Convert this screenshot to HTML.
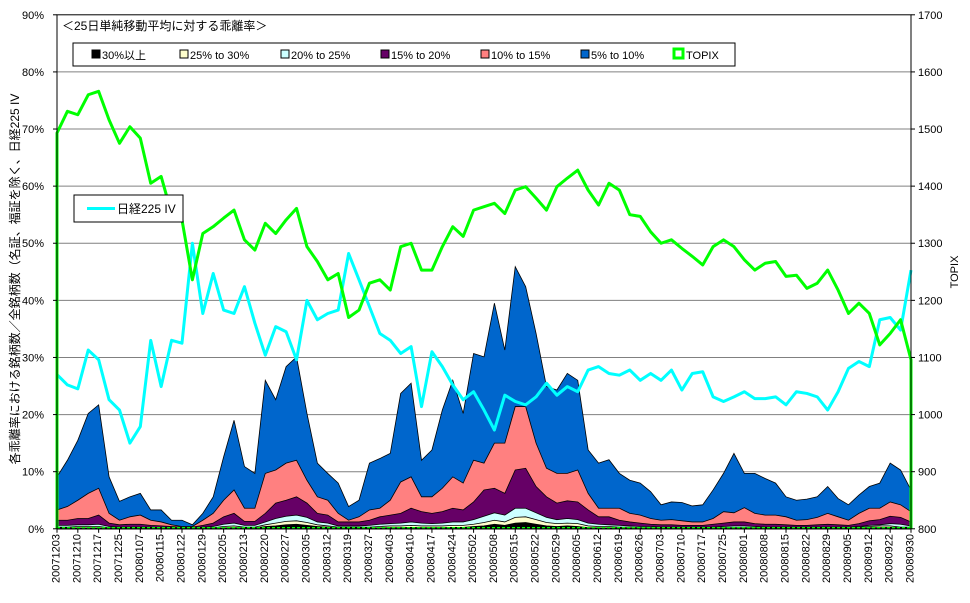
<!DOCTYPE html>
<html><head><meta charset="utf-8"><style>
html,body{margin:0;padding:0;background:#fff;}
svg{display:block;font-family:"Liberation Sans","Noto Sans CJK JP",sans-serif;}
</style></head><body>
<svg id="chart" width="970" height="603" viewBox="0 0 970 603" xmlns="http://www.w3.org/2000/svg">
<g id="grid"></g>
<g id="areas"></g>
<g id="lines"></g>
<g id="axes"></g>
<text x="62" y="30" font-size="12">＜25日単純移動平均に対する乖離率＞</text>
<g>
 <rect x="73" y="43" width="662" height="23" fill="#fff" stroke="#000" stroke-width="1"/>
 <g><rect x="92" y="50" width="8" height="8" fill="#000" stroke="#000"/><text x="102" y="59" font-size="11">30%以上</text></g>
 <g><rect x="180" y="50" width="8" height="8" fill="#FFFFCC" stroke="#000"/><text x="190" y="59" font-size="11">25% to 30%</text></g>
 <g><rect x="281" y="50" width="8" height="8" fill="#CCFFFF" stroke="#000"/><text x="291" y="59" font-size="11">20% to 25%</text></g>
 <g><rect x="381" y="50" width="8" height="8" fill="#660066" stroke="#000"/><text x="391" y="59" font-size="11">15% to 20%</text></g>
 <g><rect x="481" y="50" width="8" height="8" fill="#FF8080" stroke="#000"/><text x="491" y="59" font-size="11">10% to 15%</text></g>
 <g><rect x="581" y="50" width="8" height="8" fill="#0066CC" stroke="#000"/><text x="591" y="59" font-size="11">5% to 10%</text></g>
 <g><rect x="674" y="49" width="9" height="9" fill="#fff" stroke="#00FF00" stroke-width="3"/><text x="686" y="59" font-size="11">TOPIX</text></g>
</g>
<g>
 <rect x="74" y="195" width="109" height="27" fill="#fff" stroke="#000"/>
 <line x1="87" y1="208.5" x2="115" y2="208.5" stroke="#00FFFF" stroke-width="3"/>
 <text x="117" y="213" font-size="12">日経225 IV</text>
</g>
<text transform="translate(19,279) rotate(-90)" text-anchor="middle" font-size="12">各乖離率における銘柄数／全銘柄数（名証、福証を除く、日経225 IV</text>
<text transform="translate(958,272) rotate(-90)" text-anchor="middle" font-size="11">TOPIX</text>
</svg>
<script>
const dateLabels=["20071203","20071210","20071217","20071225","20080107","20080115","20080122","20080129","20080205","20080213","20080220","20080227","20080305","20080312","20080319","20080327","20080403","20080410","20080417","20080424","20080502","20080508","20080515","20080522","20080529","20080605","20080612","20080619","20080626","20080703","20080710","20080717","20080725","20080801","20080808","20080815","20080822","20080829","20080905","20080912","20080922","20080930"];
const leftTicks=[0,10,20,30,40,50,60,70,80,90];
const rightTicks=[800,900,1000,1100,1200,1300,1400,1500,1600,1700];
const topix=[1493,1531,1525,1560,1566,1516,1475,1504,1484,1405,1417,1352,1341,1236,1317,1329,1344,1358,1306,1288,1335,1317,1341,1361,1294,1268,1236,1247,1170,1183,1230,1236,1218,1294,1300,1253,1253,1294,1329,1312,1358,1364,1370,1352,1393,1399,1379,1358,1399,1414,1428,1393,1367,1405,1393,1350,1347,1320,1300,1306,1291,1277,1262,1294,1306,1294,1271,1253,1265,1268,1242,1244,1221,1230,1253,1218,1177,1195,1177,1122,1142,1166,1096];
const nikkeiIV=[27,25.2,24.5,31.3,29.6,22.6,20.8,15,17.9,33,24.9,33,32.5,50,37.7,44.7,38.3,37.7,42.4,36,30.4,35.4,34.5,29.6,40,36.6,37.7,38.3,48.2,43.6,38.9,34.2,33,30.7,31.9,21.4,31,28.4,25.2,22.6,24,20.8,17.3,23.4,22.3,21.7,23.1,25.5,23.4,24.9,24,27.8,28.4,27.2,26.9,27.8,26,27.2,26,27.8,24.3,27.2,27.5,23.1,22.3,23.1,24,22.8,22.8,23.1,21.7,24,23.7,23.1,20.8,24,28.1,29.3,28.4,36.6,37,34.8,45.3];
const atLeast5=[9.1,12,15.5,20.2,21.7,9.1,4.8,5.6,6.2,3.3,3.3,1.5,1.5,0.7,2.7,5.6,12.6,19,10.9,9.7,26,22.6,28.4,30.1,20.2,11.5,9.7,8,3.9,5,11.5,12.3,13.2,23.7,25.5,12,13.8,20.8,26,20.2,30.7,30.1,39.5,31.3,45.9,42.4,34.2,24.9,24.3,27.2,26,13.8,11.5,12.1,9.7,8.5,8,6.5,4.2,4.7,4.6,4,4.2,6.8,9.7,13.2,9.7,9.7,8.8,8,5.6,5,5.2,5.6,7.4,5.3,4.2,5.9,7.4,8,11.5,10.3,6.8];
const atLeast10=[3.3,3.9,5,6.2,7.1,2.7,1.5,2.1,2.4,1.5,1.2,0.7,0.4,0.4,1.5,2.7,5,6.8,3.6,3.6,9.7,10.3,11.5,12,8.5,5.6,5,2.7,1.5,2.1,3.3,3.6,5,8.2,9.1,5.6,5.6,7.1,9.1,8,12,11.5,15,15,21.4,21.4,15,10.6,9.7,9.7,10.3,6.2,3.6,3.6,3.6,2.7,2.4,1.8,1.5,1.6,1.4,1.2,1.2,1.8,3,2.8,3.7,2.7,2.4,2.4,2.1,1.5,1.6,2,2.7,2.1,1.5,2.7,3.6,3.6,4.7,4.2,3];
const atLeast15=[1.5,1.5,1.8,1.8,2.4,1,0.7,0.8,0.8,0.6,0.5,0.4,0.3,0.3,0.6,1,2.1,2.7,1.3,1.3,2.7,4.5,5,5.6,4.5,2.7,2.4,1.2,1.2,1.2,1.5,2.1,2.4,2.7,3.6,3,2.7,3,3.6,3.3,4.7,6.8,7.1,6.2,10.3,10.6,7.4,5.6,4.5,4.9,4.7,3.3,2.1,2.1,1.5,1.2,1,0.8,0.7,0.7,0.6,0.6,0.6,0.8,1,1.2,1.2,0.9,0.8,0.8,0.7,0.6,0.6,0.7,0.8,0.7,0.6,0.9,1.4,1.6,2.2,2,1.2];
const atLeast20=[0.6,0.6,0.7,0.7,0.8,0.4,0.3,0.3,0.3,0.3,0.2,0.2,0.1,0.1,0.3,0.4,0.8,1,0.6,0.6,1.2,1.8,2.2,2.4,2,1.2,1,0.5,0.5,0.5,0.6,0.8,0.9,1,1.2,1,0.9,1,1.2,1.2,1.6,2.2,2.8,2.4,3.6,3.6,2.8,2,1.6,1.8,1.6,1,0.8,0.7,0.6,0.5,0.4,0.4,0.3,0.3,0.3,0.3,0.3,0.3,0.4,0.5,0.5,0.4,0.3,0.3,0.3,0.3,0.3,0.3,0.3,0.3,0.3,0.4,0.6,0.7,0.9,0.8,0.5];
const atLeast25=[0.3,0.3,0.4,0.4,0.4,0.2,0.2,0.2,0.2,0.2,0.1,0.1,0.1,0.1,0.2,0.2,0.4,0.5,0.3,0.3,0.7,1,1.3,1.4,1.1,0.7,0.5,0.3,0.3,0.3,0.3,0.4,0.5,0.5,0.6,0.5,0.5,0.5,0.6,0.6,0.8,1.1,1.5,1.2,2,2.1,1.6,1.1,0.9,1,0.9,0.5,0.4,0.4,0.3,0.3,0.2,0.2,0.2,0.2,0.2,0.2,0.2,0.2,0.2,0.2,0.2,0.2,0.2,0.2,0.2,0.2,0.2,0.2,0.2,0.2,0.2,0.3,0.4,0.5,0.5,0.3,0.3];
const atLeast30=[0.15,0.15,0.15,0.15,0.15,0.1,0.1,0.1,0.1,0.1,0.05,0.05,0.05,0.05,0.1,0.1,0.15,0.2,0.15,0.15,0.4,0.5,0.7,0.8,0.6,0.4,0.3,0.15,0.15,0.15,0.15,0.15,0.2,0.2,0.25,0.2,0.2,0.2,0.25,0.25,0.4,0.5,0.8,0.6,1,1.1,0.8,0.5,0.4,0.5,0.4,0.2,0.15,0.15,0.15,0.1,0.1,0.1,0.1,0.1,0.1,0.1,0.1,0.1,0.1,0.1,0.1,0.1,0.1,0.1,0.1,0.1,0.1,0.1,0.1,0.1,0.1,0.15,0.2,0.2,0.25,0.2,0.15];

const NS="http://www.w3.org/2000/svg";
const X0=57,X1=911,YB=528.8,YT=14.8;
function xPos(i,n){return X0+(X1-X0)*i/(n-1);}
function yPct(v){return YB-(YB-YT)*v/90;}
function yTopix(v){return YB-(YB-YT)*(v-800)/900;}
function mk(tag,attrs,parent){const e=document.createElementNS(NS,tag);for(const k in attrs)e.setAttribute(k,attrs[k]);parent.appendChild(e);return e;}

const grid=document.getElementById('grid');
leftTicks.forEach(t=>{if(t>0&&t<90){const g=mk('line',{x1:X0,x2:X1,y1:yPct(t),y2:yPct(t),stroke:'#808080','stroke-width':1},grid);

}});

const areas=document.getElementById('areas');
const bands=[[atLeast5,'#0066CC','area-5-to-10'],[atLeast10,'#FF8080','area-10-to-15'],[atLeast15,'#660066','area-15-to-20'],[atLeast20,'#CCFFFF','area-20-to-25'],[atLeast25,'#FFFFCC','area-25-to-30'],[atLeast30,'#000000','area-30-plus']];
bands.forEach(b=>{const arr=b[0],n=arr.length;let d='M'+X0+','+YB;
arr.forEach((v,i)=>{d+=' L'+xPos(i,n).toFixed(2)+','+yPct(v).toFixed(2);});
d+=' L'+X1+','+YB+' Z';
const p=mk('path',{d:d,fill:b[1],stroke:'#000','stroke-width':0.8},areas);

});

const lines=document.getElementById('lines');
const bl=mk('line',{x1:X0,x2:X1,y1:YB-1,y2:YB-1,stroke:'#00FF00','stroke-width':1.5,'stroke-dasharray':'3,2'},lines);


let ptsIV=nikkeiIV.map((v,i)=>xPos(i,nikkeiIV.length).toFixed(2)+','+yPct(v).toFixed(2)).join(' ');
const iv=mk('polyline',{points:ptsIV,fill:'none',stroke:'#00FFFF','stroke-width':3,'stroke-linejoin':'round'},lines);


let ptsT=X0+','+YB+' '+topix.map((v,i)=>xPos(i,topix.length).toFixed(2)+','+yTopix(v).toFixed(2)).join(' ')+' '+X1+','+YB;
const tp=mk('polyline',{points:ptsT,fill:'none',stroke:'#00FF00','stroke-width':3,'stroke-linejoin':'round'},lines);



const axes=document.getElementById('axes');
const frame=mk('rect',{x:X0,y:YT,width:X1-X0,height:YB-YT,fill:'none',stroke:'#000','stroke-width':1},axes);


leftTicks.forEach(t=>{const y=yPct(t);
mk('line',{x1:X0-4,x2:X0,y1:y,y2:y,stroke:'#000'},axes);
const tx=mk('text',{x:X0-13,y:y+4,'text-anchor':'end','font-size':11},axes);tx.textContent=t+'%';

});
rightTicks.forEach(t=>{const y=yTopix(t);
mk('line',{x1:X1,x2:X1+4,y1:y,y2:y,stroke:'#000'},axes);
const tx=mk('text',{x:X1+7,y:y+4,'font-size':11},axes);tx.textContent=t;

});
dateLabels.forEach((l,i)=>{const x=xPos(i,dateLabels.length);
mk('line',{x1:x,x2:x,y1:YB,y2:YB+4,stroke:'#000'},axes);
const tx=mk('text',{'text-anchor':'end','font-size':11,transform:'translate('+(x+2.5).toFixed(2)+',534) rotate(-90)'},axes);tx.textContent=l;

});
</script>
</body></html>
